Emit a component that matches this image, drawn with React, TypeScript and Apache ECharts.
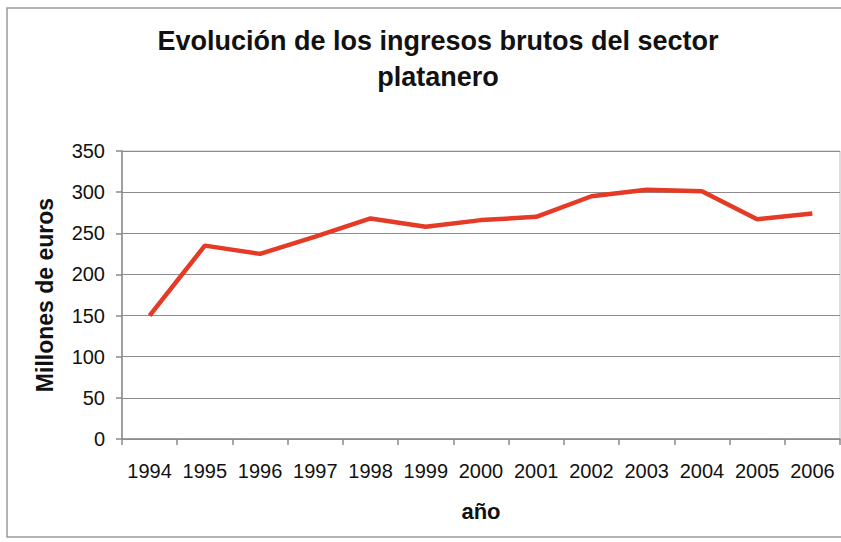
import React, { useEffect, useRef } from "react";
import * as echarts from "echarts";

const years = ["1994", "1995", "1996", "1997", "1998", "1999", "2000", "2001", "2002", "2003", "2004", "2005", "2006"];
const ingresos = [150, 235, 225, 246, 268, 258, 266, 270, 295, 303, 301, 267, 274];
const titleText = "Evolución de los ingresos brutos del sector\nplatanero";
const xName = "año";
const yName = "Millones de euros";

export default function App() {
  const ref = useRef<HTMLDivElement>(null);
  useEffect(() => {
    if (!ref.current) return;
    const chart = echarts.init(ref.current, null, { renderer: "svg" });
    const font = "'Liberation Sans', Arial, sans-serif";
    chart.setOption({
      animation: false,
      backgroundColor: "#ffffff",
      textStyle: { fontFamily: font },
      title: {
        text: titleText,
        left: 433,
        top: 18,
        textAlign: "center",
        textStyle: { fontFamily: font, fontSize: 27, fontWeight: "bold", color: "#111", lineHeight: 36 },
      },
      graphic: [
        {
          type: "rect",
          shape: { x: 7, y: 8, width: 860, height: 529 },
          style: { fill: "none", stroke: "#9a9a9a", lineWidth: 1.5 },
          silent: true,
        },
      ],
      grid: {
        left: 122,
        right: 1,
        top: 151,
        bottom: 103,
        show: true,
        borderColor: "#bdbdbd",
        borderWidth: 1,
      },
      xAxis: {
        type: "category",
        data: years,
        boundaryGap: true,
        name: xName,
        nameLocation: "middle",
        nameGap: 61,
        nameTextStyle: { fontFamily: font, fontSize: 22, fontWeight: "bold", color: "#111" },
        axisLine: { lineStyle: { color: "#8a8a8a", width: 1.5 } },
        axisTick: { show: true, alignWithLabel: false, length: 6, lineStyle: { color: "#8a8a8a", width: 1.5 } },
        axisLabel: { fontFamily: font, fontSize: 20, color: "#111", margin: 22, interval: 0 },
        splitLine: { show: false },
      },
      yAxis: {
        type: "value",
        min: 0,
        max: 350,
        interval: 50,
        name: yName,
        nameLocation: "middle",
        nameGap: 66,
        nameTextStyle: { fontFamily: font, fontSize: 23, fontWeight: "bold", color: "#111" },
        axisLine: { show: true, lineStyle: { color: "#8a8a8a", width: 1.5 } },
        axisTick: { show: true, length: 6, lineStyle: { color: "#8a8a8a", width: 1.5 } },
        axisLabel: { fontFamily: font, fontSize: 20, color: "#111", margin: 17 },
        splitLine: { show: true, lineStyle: { color: "#8c8c8c", width: 1 } },
      },
      series: [
        {
          type: "line",
          data: ingresos,
          symbol: "none",
          lineStyle: { color: "#e53a26", width: 4.5 },
          itemStyle: { color: "#e53a26" },
        },
      ],
    });
    return () => chart.dispose();
  }, []);
  return (
    <div
      ref={ref}
      style={{ position: "fixed", left: 0, top: 0, width: 841, height: 542, background: "#fff" }}
    />
  );
}
